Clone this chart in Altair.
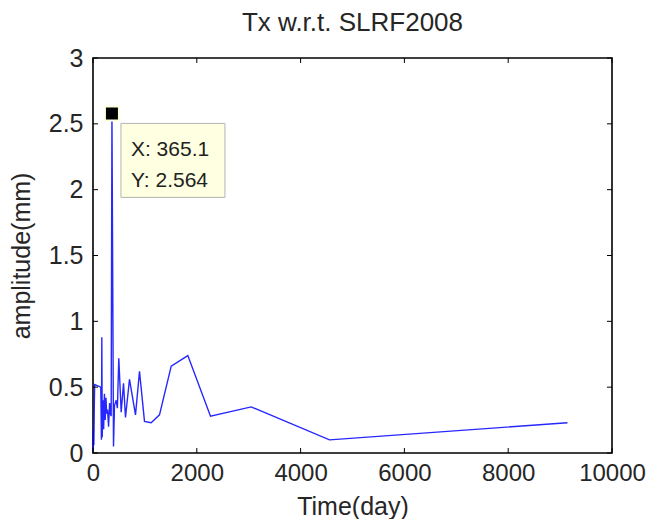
import altair as alt
import pandas as pd

# period (days) and amplitude (mm)
days = [0, 8, 16, 25, 32, 150, 162, 170, 178, 190, 205, 220, 235, 250, 262, 280, 300,
        320, 335, 350, 365.1, 395, 414, 447, 470, 497, 543, 588, 626, 703, 819, 896,
        992, 1121, 1281, 1507, 1827, 2264, 3048, 4557, 9142]
amps = [0.02, 0.18, 0.06, 0.35, 0.52, 0.50, 0.10, 0.88, 0.12, 0.40, 0.18, 0.45, 0.25,
        0.42, 0.30, 0.33, 0.20, 0.38, 0.30, 0.28, 2.564, 0.05, 0.36, 0.40, 0.34, 0.72,
        0.31, 0.53, 0.27, 0.56, 0.29, 0.62, 0.24, 0.23, 0.29, 0.66, 0.74, 0.28, 0.35,
        0.10, 0.23]

x_ticks = [0, 2000, 4000, 6000, 8000, 10000]
y_ticks = [0, 0.5, 1, 1.5, 2, 2.5, 3]

tip_x = 365.1
tip_y = 2.564
tip_lines = ["X: 365.1", "Y: 2.564"]

W, H = 519, 395
FONT = "Liberation Sans"
TXT = "#262626"

df = pd.DataFrame({"day": days, "amp": amps})
xs = alt.Scale(domain=[0, 10000], nice=False)
ys = alt.Scale(domain=[0, 3], nice=False)

line = alt.Chart(df).mark_line(color="#0000ff", strokeWidth=1.4, opacity=0.85).encode(
    x=alt.X("day:Q", scale=xs, title="Time(day)",
            axis=alt.Axis(values=x_ticks, domain=False, ticks=False, grid=False,
                          labelFontSize=24, labelPadding=8, titleFontSize=25,
                          titlePadding=9, format="d", labelFlush=False)),
    y=alt.Y("amp:Q", scale=ys, title="amplitude(mm)",
            axis=alt.Axis(values=y_ticks, domain=False, ticks=False, grid=False,
                          labelFontSize=25, labelPadding=10, titleFontSize=25,
                          titlePadding=14, labelFlush=False, format="~g")),
)

xt = pd.DataFrame({"v": x_ticks})
yt = pd.DataFrame({"v": y_ticks})
tick_len = 5
xb = alt.Chart(xt).mark_rule(color="black", strokeWidth=1).encode(
    x=alt.X("v:Q", scale=xs), y=alt.value(H), y2=alt.value(H - tick_len))
xtop = alt.Chart(xt).mark_rule(color="black", strokeWidth=1).encode(
    x=alt.X("v:Q", scale=xs), y=alt.value(0), y2=alt.value(tick_len))
yl = alt.Chart(yt).mark_rule(color="black", strokeWidth=1).encode(
    y=alt.Y("v:Q", scale=ys), x=alt.value(0), x2=alt.value(tick_len))
yr = alt.Chart(yt).mark_rule(color="black", strokeWidth=1).encode(
    y=alt.Y("v:Q", scale=ys), x=alt.value(W), x2=alt.value(W - tick_len))

tipdf = pd.DataFrame({"x": [tip_x], "y": [tip_y]})
box = alt.Chart(tipdf).mark_rect(fill="#ffffe1", stroke="#b4b4b4", strokeWidth=1,
                                 xOffset=9, x2Offset=113, yOffset=8, y2Offset=82).encode(
    x=alt.X("x:Q", scale=xs), x2=alt.X2("x"), y=alt.Y("y:Q", scale=ys), y2=alt.Y2("y"))
marker = alt.Chart(tipdf).mark_square(size=196, color="black", stroke="#ffffe1",
                                      strokeWidth=2, opacity=1, yOffset=-2).encode(
    x=alt.X("x:Q", scale=xs), y=alt.Y("y:Q", scale=ys))
txtdf = pd.DataFrame({"x": [tip_x, tip_x], "y": [tip_y, tip_y], "t": tip_lines})
t1 = alt.Chart(txtdf.iloc[[0]]).mark_text(align="left", baseline="middle", fontSize=21,
                                         color="#222222", dx=19, dy=35, font=FONT).encode(
    x=alt.X("x:Q", scale=xs), y=alt.Y("y:Q", scale=ys), text="t:N")
t2 = alt.Chart(txtdf.iloc[[1]]).mark_text(align="left", baseline="middle", fontSize=21,
                                         color="#222222", dx=19, dy=66, font=FONT).encode(
    x=alt.X("x:Q", scale=xs), y=alt.Y("y:Q", scale=ys), text="t:N")

chart = alt.layer(line, xb, xtop, yl, yr, box, marker, t1, t2).properties(
    width=W, height=H,
    title=alt.TitleParams("Tx w.r.t. SLRF2008", fontSize=26, fontWeight="normal",
                          color=TXT, font=FONT, offset=10),
    autosize=alt.AutoSizeParams(type="none"),
    padding={"left": 85, "top": 50, "right": 34, "bottom": 66},
).configure(font=FONT).configure_view(
    stroke="black", strokeWidth=1.6
).configure_axis(
    labelColor=TXT, titleColor=TXT, labelFont=FONT, titleFont=FONT,
    titleFontWeight="normal"
)

chart.save("out.html", embed_options={"renderer": "svg", "actions": False})
